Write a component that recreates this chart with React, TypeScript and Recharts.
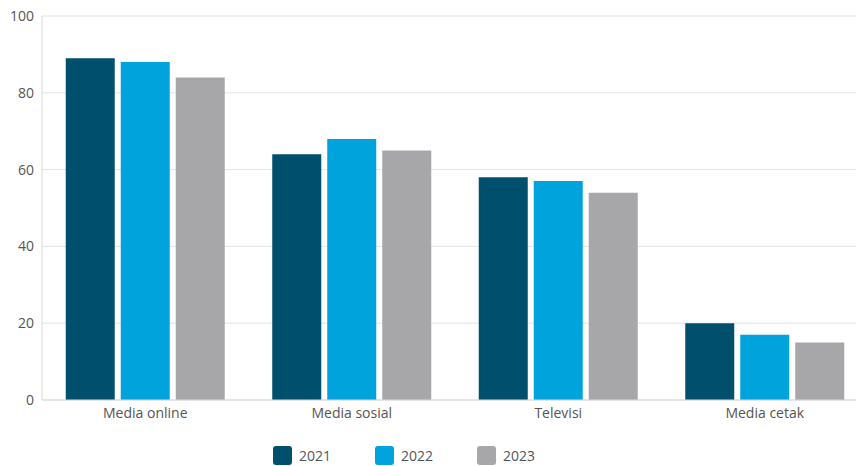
import { BarChart, Bar, XAxis, YAxis, CartesianGrid, Legend } from "recharts";

const categories = ["Media online", "Media sosial", "Televisi", "Media cetak"];
const v2021 = [89, 64, 58, 20];
const v2022 = [88, 68, 57, 17];
const v2023 = [84, 65, 54, 15];
const yTicks = [0, 20, 40, 60, 80, 100];

const series = [
  { key: "2021", color: "#00506d" },
  { key: "2022", color: "#00a3dc" },
  { key: "2023", color: "#a7a7a9" },
];

const data = categories.map((name, i) => ({
  name,
  "2021": v2021[i],
  "2022": v2022[i],
  "2023": v2023[i],
}));

const font = "'Open Sans', 'Noto Sans', sans-serif";

const LegendContent = () => (
  <div style={{ display: "flex", height: 36, paddingTop: 16, paddingLeft: 273, boxSizing: "border-box", fontFamily: font }}>
    {series.map((s) => (
      <div key={s.key} style={{ display: "flex", alignItems: "center", marginRight: 44, height: 19 }}>
        <div style={{ width: 19, height: 19, borderRadius: 3, background: s.color, marginRight: 7 }} />
        <span style={{ fontSize: 14, color: "#555" }}>{s.key}</span>
      </div>
    ))}
  </div>
);

// plot area runs a little past the right edge of the window, like the original
const App = () => {
  return (
    <div style={{ position: "absolute", left: 0, top: 0, width: 856, height: 466, overflow: "hidden", background: "#fff" }}>
      <BarChart
        width={868}
        height={466}
        data={data}
        margin={{ top: 16, right: 0, left: 0, bottom: 0 }}
        barCategoryGap="11.5%"
        barGap={6}
      >
        <CartesianGrid vertical={false} stroke="#e3e3e3" />
        <XAxis
          dataKey="name"
          height={30}
          tickLine={false}
          axisLine={{ stroke: "#d9d9d9" }}
          tick={{ fontSize: 14, fill: "#555", fontFamily: font }}
        />
        <YAxis
          width={42}
          domain={[0, 100]}
          ticks={yTicks}
          tickLine={false}
          axisLine={{ stroke: "#d9d9d9" }}
          tick={{ fontSize: 14, fill: "#555", fontFamily: font }}
        />
        <Legend verticalAlign="bottom" height={36} wrapperStyle={{ left: 0, width: 856 }} content={<LegendContent />} />
        {series.map((s) => (
          <Bar key={s.key} dataKey={s.key} fill={s.color} isAnimationActive={false} />
        ))}
      </BarChart>
    </div>
  );
};

export default App;
